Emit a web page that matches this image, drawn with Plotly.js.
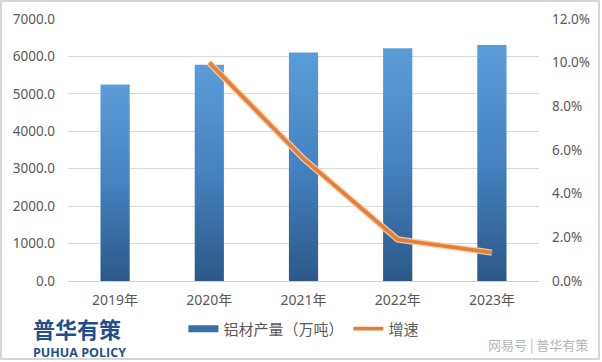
<!DOCTYPE html>
<html>
<head>
<meta charset="utf-8">
<script src="https://cdn.plot.ly/plotly-3.0.1.min.js"></script>
<style>
html,body{margin:0;padding:0;background:#fff;}
#wrap{position:relative;width:602px;height:362px;overflow:hidden;}
#chart{position:absolute;left:0;top:0;width:602px;height:362px;}
#frame{position:absolute;left:0;top:0;width:596px;height:356px;border:2px solid #d6d6d6;pointer-events:none;}
</style>
</head>
<body>
<div id="wrap"><div id="chart"></div><div id="frame"></div></div>
<script>
const years = ["2019年", "2020年", "2021年", "2022年", "2023年"];
const output = [5252, 5779, 6105, 6221, 6303];
const growthYears = ["2020年", "2021年", "2022年", "2023年"];
const growth = [10.0, 5.6, 1.9, 1.3];
const barName = "铝材产量（万吨）";
const lineName = "增速";

const fontFam = "'Noto Sans', 'Noto Sans CJK SC', sans-serif";
const cjkFam = "'Noto Sans CJK SC', sans-serif";

const traces = [
  {
    type: "bar", x: years, y: output, name: barName,
    marker: {color: "#3f78b5"}, width: 0.31, showlegend: false,
    hoverinfo: "skip"
  },
  {
    type: "scatter", mode: "lines", x: [null], y: [null], name: barName,
    line: {color: "#3a6ea8", width: 7}, showlegend: true
  },
  {
    type: "scatter", mode: "lines", x: growthYears, y: growth, yaxis: "y2",
    line: {color: "rgba(250,205,165,0.9)", width: 6.5}, showlegend: false, hoverinfo: "skip"
  },
  {
    type: "scatter", mode: "lines", x: growthYears, y: growth, yaxis: "y2", name: lineName,
    line: {color: "#e37f3b", width: 3.8}
  }
];

const layout = {
  width: 602, height: 362,
  margin: {l: 68, r: 63, t: 19, b: 81, autoexpand: false},
  paper_bgcolor: "#ffffff", plot_bgcolor: "#ffffff",
  font: {family: fontFam, size: 13.5, color: "#595959"},
  showlegend: true,
  legend: {
    orientation: "h", x: 0.245, xanchor: "left", y: -0.12, yanchor: "top",
    font: {family: cjkFam, size: 15, color: "#595959"},
    itemwidth: 30, tracegroupgap: 0, traceorder: "normal",
    bgcolor: "rgba(0,0,0,0)"
  },
  xaxis: {
    type: "category", showgrid: false, zeroline: false, showline: false, ticks: "",
    tickfont: {family: fontFam, size: 14, color: "#595959"},
    ticklabelstandoff: 9
  },
  yaxis: {
    range: [0, 7000], dtick: 1000, tickformat: ".1f",
    showgrid: true, gridcolor: "#d9d9d9", gridwidth: 1,
    zeroline: true, zerolinecolor: "#d0d0d0", zerolinewidth: 1,
    showline: false, ticks: "", ticklabelstandoff: 12,
    tickfont: {family: fontFam, size: 13.5, color: "#595959"}
  },
  yaxis2: {
    overlaying: "y", side: "right", range: [0, 12], dtick: 2,
    tickformat: ".1f", ticksuffix: "%",
    showgrid: false, zeroline: false, showline: false, ticks: "", ticklabelstandoff: 12,
    tickfont: {family: fontFam, size: 13.5, color: "#595959"}
  },
  annotations: [
    {xref: "paper", yref: "paper", x: -0.076, y: -0.18, xanchor: "left", yanchor: "middle",
     text: "<b>普华有策</b>", showarrow: false, borderpad: 0,
     font: {family: cjkFam, size: 22, color: "#1f4f8f"}},
    {xref: "paper", yref: "paper", x: -0.076, y: -0.272, xanchor: "left", yanchor: "middle",
     text: "<b>PUHUA POLICY</b>", showarrow: false, borderpad: 0,
     font: {family: "'Open Sans', sans-serif", size: 12.5, color: "#1f4f8f"}},
    {xref: "paper", yref: "paper", x: 0.998, y: -0.244, xanchor: "center", yanchor: "middle",
     text: "网易号 | 普华有策", showarrow: false,
     font: {family: cjkFam, size: 13, color: "#b5b5b5"}}
  ]
};

Plotly.newPlot("chart", traces, layout, {displayModeBar: false, staticPlot: true}).then(function(gd){
  const svg = gd.querySelector("svg.main-svg");
  const ns = "http://www.w3.org/2000/svg";
  let defs = svg.querySelector("defs");
  if (!defs) { defs = document.createElementNS(ns, "defs"); svg.insertBefore(defs, svg.firstChild); }
  const grad = document.createElementNS(ns, "linearGradient");
  grad.setAttribute("id", "barGrad");
  grad.setAttribute("x1", "0"); grad.setAttribute("y1", "0");
  grad.setAttribute("x2", "0"); grad.setAttribute("y2", "1");
  const stops = [["0", "#5b9dd9"], ["0.5", "#4482c0"], ["1", "#2c5888"]];
  stops.forEach(function(s){
    const st = document.createElementNS(ns, "stop");
    st.setAttribute("offset", s[0]); st.setAttribute("stop-color", s[1]);
    grad.appendChild(st);
  });
  defs.appendChild(grad);
  gd.querySelectorAll(".barlayer .point path").forEach(function(p){ p.style.fill = "url(#barGrad)"; });
});
</script>
</body>
</html>
